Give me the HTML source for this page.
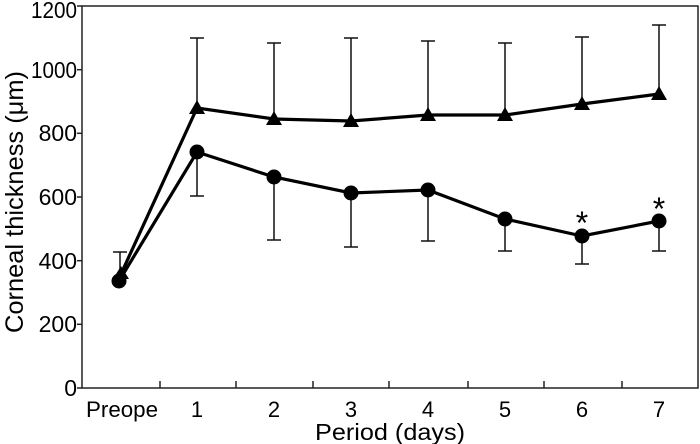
<!DOCTYPE html>
<html><head><meta charset="utf-8"><style>body{margin:0;background:#fff}svg{display:block}</style></head>
<body>
<svg width="700" height="444" viewBox="0 0 700 444" xmlns="http://www.w3.org/2000/svg" font-family="Liberation Sans, Arial, sans-serif" fill="#000">
<rect x="82" y="6" width="616" height="382" fill="none" stroke="#222" stroke-width="1.5"/>
<g stroke="#222" stroke-width="1.5">
<line x1="77" y1="6" x2="82" y2="6"/><line x1="77" y1="69.7" x2="82" y2="69.7"/><line x1="77" y1="133.3" x2="82" y2="133.3"/><line x1="77" y1="197" x2="82" y2="197"/><line x1="77" y1="260.7" x2="82" y2="260.7"/><line x1="77" y1="324.3" x2="82" y2="324.3"/><line x1="77" y1="388" x2="82" y2="388"/>
<line x1="160" y1="388" x2="160" y2="381"/><line x1="236" y1="388" x2="236" y2="381"/><line x1="313" y1="388" x2="313" y2="381"/><line x1="389" y1="388" x2="389" y2="381"/><line x1="468" y1="388" x2="468" y2="381"/><line x1="544" y1="388" x2="544" y2="381"/><line x1="622" y1="388" x2="622" y2="381"/>
</g>
<g font-size="23" text-anchor="end">
<text x="77" y="18" textLength="46" lengthAdjust="spacingAndGlyphs">1200</text><text x="77" y="78" textLength="46" lengthAdjust="spacingAndGlyphs">1000</text><text x="77" y="141">800</text><text x="77" y="205">600</text><text x="77" y="269">400</text><text x="77" y="332">200</text><text x="77" y="396">0</text>
</g>
<g font-size="22" text-anchor="middle">
<text x="122" y="417" textLength="72" lengthAdjust="spacingAndGlyphs">Preope</text><text x="197" y="417">1</text><text x="274" y="417">2</text><text x="351" y="417">3</text><text x="428" y="417">4</text><text x="505" y="417">5</text><text x="582" y="417">6</text><text x="659" y="417">7</text>
</g>
<text x="390" y="440" font-size="23" text-anchor="middle" textLength="150" lengthAdjust="spacingAndGlyphs">Period (days)</text>
<text transform="translate(23,202) rotate(-90)" font-size="25" text-anchor="middle" textLength="262" lengthAdjust="spacingAndGlyphs">Corneal thickness (μm)</text>
<g stroke="#111" stroke-width="1.5">
<line x1="120" y1="274" x2="120" y2="252"/><line x1="113" y1="252" x2="127" y2="252"/>
<line x1="197" y1="108" x2="197" y2="38"/><line x1="190" y1="38" x2="204" y2="38"/>
<line x1="274" y1="119" x2="274" y2="43"/><line x1="267" y1="43" x2="281" y2="43"/>
<line x1="351" y1="121" x2="351" y2="38"/><line x1="344" y1="38" x2="358" y2="38"/>
<line x1="428" y1="115" x2="428" y2="41"/><line x1="421" y1="41" x2="435" y2="41"/>
<line x1="505" y1="115" x2="505" y2="43"/><line x1="498" y1="43" x2="512" y2="43"/>
<line x1="582" y1="104" x2="582" y2="37"/><line x1="575" y1="37" x2="589" y2="37"/>
<line x1="659" y1="94" x2="659" y2="25"/><line x1="652" y1="25" x2="666" y2="25"/>
<line x1="197" y1="152" x2="197" y2="196"/><line x1="190" y1="196" x2="204" y2="196"/>
<line x1="274" y1="177" x2="274" y2="240"/><line x1="267" y1="240" x2="281" y2="240"/>
<line x1="351" y1="193" x2="351" y2="247"/><line x1="344" y1="247" x2="358" y2="247"/>
<line x1="428" y1="190" x2="428" y2="241"/><line x1="421" y1="241" x2="435" y2="241"/>
<line x1="505" y1="219" x2="505" y2="251"/><line x1="498" y1="251" x2="512" y2="251"/>
<line x1="582" y1="236" x2="582" y2="264"/><line x1="575" y1="264" x2="589" y2="264"/>
<line x1="659" y1="221" x2="659" y2="251"/><line x1="652" y1="251" x2="666" y2="251"/>
</g>
<polyline fill="none" stroke="#000" stroke-width="3.2" points="121,274 197,108 274,119 351,121 428,115 505,115 582,104 659,94"/>
<polyline fill="none" stroke="#000" stroke-width="3.2" points="119,281 197,152 274,177 351,193 428,190 505,219 582,236 659,221"/>
<g>
<polygon points="121,266 129,279 113,279"/>
<polygon points="197,100 205,114 189,114"/><polygon points="274,111 282,125 266,125"/><polygon points="351,113 359,127 343,127"/><polygon points="428,107 436,121 420,121"/><polygon points="505,107 513,121 497,121"/><polygon points="582,96 590,110 574,110"/><polygon points="659,86 667,100 651,100"/>
<circle cx="119" cy="281" r="7.5"/><circle cx="197" cy="152" r="7.5"/><circle cx="274" cy="177" r="7.5"/><circle cx="351" cy="193" r="7.5"/><circle cx="428" cy="190" r="7.5"/><circle cx="505" cy="219" r="7.5"/><circle cx="582" cy="236" r="7.5"/><circle cx="659" cy="221" r="7.5"/>
</g>
<g font-size="32" text-anchor="middle"><text x="582" y="234">*</text><text x="659" y="220">*</text></g>
</svg>
</body></html>
